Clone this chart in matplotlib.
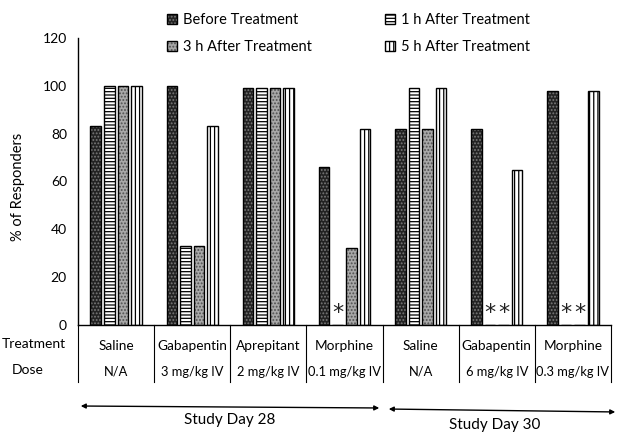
import matplotlib
matplotlib.use("Agg")
import matplotlib.pyplot as plt
import numpy as np

plt.rcParams['font.family'] = ['Lato', 'DejaVu Sans']
plt.rcParams['hatch.linewidth'] = 0.9

treatments = ["Saline", "Gabapentin", "Aprepitant", "Morphine", "Saline", "Gabapentin", "Morphine"]
doses = ["N/A", "3 mg/kg IV", "2 mg/kg IV", "0.1 mg/kg IV", "N/A", "6 mg/kg IV", "0.3 mg/kg IV"]
series_names = ["Before Treatment", "1 h After Treatment", "3 h After Treatment", "5 h After Treatment"]
before = [83, 100, 99, 66, 82, 82, 98]
h1 = [100, 33, 99, 0, 99, 0, 0]
h3 = [100, 33, 99, 32, 82, 0, 0]
h5 = [100, 83, 99, 82, 99, 65, 98]
# significance markers (group index, series index)
stars = [(3, 1), (5, 1), (5, 2), (6, 1), (6, 2)]
days = ["Study Day 28", "Study Day 30"]

W, H = 638, 434
fig = plt.figure(figsize=(W / 100, H / 100), dpi=100)
L, R, B, T = 78, 611, 325, 38
ax = fig.add_axes([L / W, 1 - B / H, (R - L) / W, (B - T) / H])

x = np.arange(len(treatments))
pitch = 0.178
bw = 0.14
styles = [
    dict(face="#222222", hatchc="#7a7a7a", hatch="....."),
    dict(face="white", hatchc="black", hatch="-----"),
    dict(face="#a8a8a8", hatchc="#505050", hatch="....."),
    dict(face="white", hatchc="black", hatch="||||"),
]
data = [before, h1, h3, h5]
handles = []
for i, (vals, st) in enumerate(zip(data, styles)):
    pos = x + (i - 1.5) * pitch
    bars = ax.bar(pos, vals, bw, color=st["face"], edgecolor=st["hatchc"],
                  hatch=st["hatch"], linewidth=0, label=series_names[i])
    outl = ax.bar(pos, vals, bw, fill=False, edgecolor="black", linewidth=1.0)
    handles.append((bars, outl))

for g, s in stars:
    ax.text(x[g] + (s - 1.5) * pitch, 1, "*", ha="center", va="bottom",
            fontsize=16, color="#222222", family="DejaVu Sans")

ax.set_xlim(-0.5, len(treatments) - 0.5)
ax.set_ylim(0, 120)
ax.set_yticks(np.arange(0, 121, 20))
ax.tick_params(axis="y", length=0, pad=8, labelsize=10)
ax.tick_params(axis="x", bottom=False, labelbottom=False)
ax.spines["top"].set_visible(False)
ax.spines["right"].set_visible(False)
ax.spines["left"].set_linewidth(1.0)
ax.spines["bottom"].set_linewidth(1.0)
fig.text(18 / W, 1 - 187 / H, "% of Responders", rotation=90, ha="center",
         va="center", fontsize=10.5)

# table below the axis
tr = ax.get_xaxis_transform()
ybot = -(382 - B) / (B - T)
for i in range(len(treatments) + 1):
    ax.plot([i - 0.5, i - 0.5], [0, ybot], transform=tr, color="black",
            lw=0.8, clip_on=False)
y_tr = -(346 - B) / (B - T)
y_do = -(372 - B) / (B - T)
for i in range(len(treatments)):
    ax.text(x[i], y_tr, treatments[i], transform=tr, ha="center", va="center", fontsize=9.8)
    ax.text(x[i], y_do, doses[i], transform=tr, ha="center", va="center", fontsize=9.3)
fig.text(2 / W, 1 - 344 / H, "Treatment", ha="left", va="center", fontsize=10)
fig.text(12 / W, 1 - 370 / H, "Dose", ha="left", va="center", fontsize=10)

# study day arrows
ax.annotate("", xy=(78 / W, 1 - 406 / H), xytext=(382 / W, 1 - 408 / H),
            xycoords="figure fraction",
            arrowprops=dict(arrowstyle="<|-|>", color="black", lw=1, mutation_scale=7))
ax.annotate("", xy=(386 / W, 1 - 409 / H), xytext=(618 / W, 1 - 412 / H),
            xycoords="figure fraction",
            arrowprops=dict(arrowstyle="<|-|>", color="black", lw=1, mutation_scale=7))
fig.text(230 / W, 1 - 420 / H, days[0], ha="center", va="center", fontsize=11)
fig.text(495 / W, 1 - 425 / H, days[1], ha="center", va="center", fontsize=11)

order = [0, 2, 1, 3]
leg = ax.legend([handles[k] for k in order], [series_names[k] for k in order],
                ncol=2, loc="upper left", bbox_to_anchor=(157 / W, 1 - 3 / H),
                bbox_transform=fig.transFigure, frameon=False, fontsize=10.5,
                handlelength=0.7, handleheight=0.7, handletextpad=0.4,
                columnspacing=5.0, labelspacing=0.9, borderpad=0.2)

fig.savefig("out.png", dpi=100)
